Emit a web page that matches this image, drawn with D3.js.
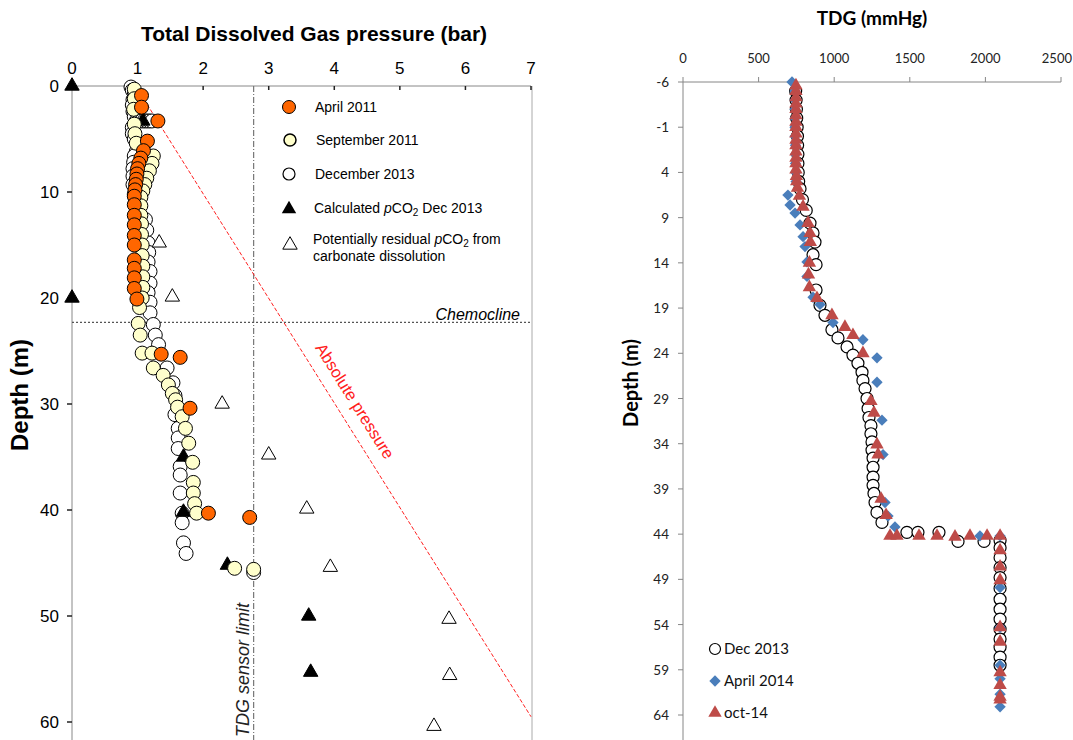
<!DOCTYPE html>
<html>
<head>
<meta charset="utf-8">
<script src="https://d3js.org/d3.v7.min.js"></script>
<style>
  body { margin: 0; background: #fff; }
  .lab { font-family: "Liberation Sans", Arial, sans-serif; }
  .cal { font-family: Lato, "Liberation Sans", sans-serif; }
</style>
</head>
<body>
<svg width="1073" height="740"></svg>
<script>
// ---- left panel data: [pressure (bar), depth (m)]
var apr2011 = [[1.06,0.9],[1.06,2.0],[1.31,3.3],[1.15,5.2],[1.09,6.1],[1.05,6.8],[1.02,7.3],[1.00,7.8],
  [0.99,8.3],[0.98,8.8],[0.97,9.3],[0.96,9.8],[0.95,10.4],[0.95,11.2],[0.95,12.2],[0.95,13.1],[0.95,14.1],
  [0.95,15.0],[0.95,16.4],[0.95,17.2],[0.95,18.1],[0.95,19.1],[0.99,20.1],[1.36,25.3],[1.65,25.6],
  [1.80,30.4],[2.08,40.3],[2.71,40.7]];
var sep2011 = [[0.95,0.3],[0.95,1.2],[0.94,2.2],[0.95,3.6],[0.96,4.5],[0.98,5.4],[1.24,6.6],[1.22,7.3],
  [1.18,8.0],[1.14,8.7],[1.11,9.3],[1.08,9.9],[1.05,10.5],[1.05,11.3],[1.05,12.2],[1.06,13.0],[1.06,14.0],
  [1.07,15.0],[1.07,16.0],[1.08,17.0],[1.08,18.0],[1.08,19.0],[1.07,20.0],[1.03,20.9],[1.01,22.4],
  [1.04,23.5],[1.07,25.2],[1.22,25.2],[1.24,26.6],[1.39,27.3],[1.47,28.2],[1.53,29.0],[1.58,29.6],
  [1.61,30.3],[1.68,31.2],[1.73,32.3],[1.78,33.7],[1.84,35.5],[1.85,37.4],[1.85,38.4],[1.87,39.4],
  [1.90,40.3],[2.48,45.5],[2.77,45.6]];
var dec2013 = [[0.90,0.1],[0.92,0.4],[0.95,0.8],[0.93,1.3],[0.92,1.8],[0.93,2.4],[0.95,2.9],[0.98,3.3],
  [1.02,3.3],[1.06,3.3],[1.10,3.3],[1.14,3.3],[1.18,3.3],[1.22,3.3],[0.92,3.9],[0.92,4.5],[0.95,5.0],
  [1.00,5.4],[1.03,5.8],[0.98,6.2],[0.95,6.6],[0.94,7.2],[0.93,7.8],[0.93,8.5],[0.93,9.3],[0.95,10.2],
  [0.97,11.0],[1.00,11.8],[1.12,12.6],[1.14,13.6],[1.16,14.8],[1.17,15.7],[1.16,16.6],[1.19,17.5],
  [1.19,18.6],[1.16,19.5],[1.19,20.4],[1.19,21.4],[1.24,22.5],[1.27,23.5],[1.32,24.4],[1.45,26.6],
  [1.54,28.0],[1.57,29.2],[1.57,31.0],[1.62,32.3],[1.62,33.2],[1.62,34.2],[1.65,35.9],[1.65,36.7],
  [1.65,38.4],[1.68,40.3],[1.68,41.2],[1.70,43.1],[1.74,44.1],[2.77,45.9]];
var calcPCO2 = [[0,0],[0,20],[1.08,3.3],[1.70,35.0],[1.70,40.2],[2.37,45.2],[3.61,50.0],[3.64,55.3]];
var residPCO2 = [[1.33,14.8],[1.53,19.9],[2.29,30.0],[3.00,34.8],[3.58,39.9],[3.94,45.4],[5.75,50.3],
  [5.76,55.6],[5.52,60.4]];
var absPressure = [[1.0,0.3],[7.0,59.5]];
var sensorLimit = 2.77;
var chemocline = 22.3;
var leftXTicks = [0,1,2,3,4,5,6,7];
var leftYTicks = [0,10,20,30,40,50,60];

// ---- right panel data: [TDG (mmHg), depth (m)]
var tdgDec2013 = [[745,-5],[748,-4],[750,-3],[752,-2],[755,-1],[757,0],[758,1],[760,2],[760,3],[762,4],
  [765,5],[774,5.8],[790,7],[815,8.2],[840,9.6],[860,10.7],[873,11.7],[860,13.1],[880,14.2],[880,17.0],
  [906,18.7],[939,19.8],[985,21.4],[1025,22.3],[1085,23.3],[1124,24.2],[1157,25.1],[1184,26.1],
  [1190,27.0],[1204,27.9],[1217,29.0],[1224,30.1],[1230,31.1],[1243,32.0],[1243,32.9],[1250,33.8],
  [1250,34.7],[1257,35.6],[1257,36.6],[1257,37.7],[1257,38.6],[1263,39.5],[1270,40.5],[1283,41.6],
  [1316,42.7],[1481,43.8],[1554,43.8],[1693,43.8],[1819,44.8],[1991,44.8],[2097,44.7],[2097,45.5],
  [2097,46.6],[2097,47.7],[2097,48.8],[2097,50.0],[2097,51.2],[2097,52.3],[2097,53.4],[2097,54.5],
  [2097,55.6],[2097,56.5],[2097,57.6],[2097,58.5]];
var tdgApr2014 = [[721,-6],[741,-5],[741,-4],[741,-3],[741,-2],[741,-1],[741,0],[744,1],[744,2],
  [744,3],[746,4],[748,5],[694,6.5],[708,7.6],[741,8.5],[774,9.8],[794,11.1],[807,12.2],[820,13.9],
  [820,15.5],[860,17.8],[906,18.6],[992,20.6],[1190,22.5],[1283,24.5],[1283,27.2],[1316,31.4],
  [1323,35.2],[1336,40.5],[1356,42.0],[1402,43.2],[1964,44.2],[2097,44.2],[2097,49.9],[2097,54.3],
  [2097,58.5],[2097,60.0],[2097,61.7],[2097,63.1]];
var tdgOct2014 = [[747,-5.6],[747,-5],[747,-4.3],[747,-3.6],[747,-3],[747,-2.3],[747,-1.6],[747,-1],
  [747,-0.3],[747,0.4],[747,1],[747,1.7],[747,2.4],[747,3],[747,3.7],[750,4.4],[752,5],[757,5.7],
  [770,6.6],[794,7.8],[827,9.6],[840,10.7],[842,11.7],[836,14.0],[830,15.3],[836,16.7],[886,17.9],
  [985,19.8],[1071,21.1],[1124,22.0],[1190,24.0],[1243,29.3],[1263,30.6],[1283,34.1],[1290,35.2],
  [1310,40.1],[1343,41.9],[1369,44.2],[1415,44.2],[1561,44.2],[1680,44.2],[1799,44.3],[1898,44.2],
  [2011,44.2],[2097,44.2],[2097,45.8],[2097,47.6],[2097,49.1],[2097,54.3],[2097,55.9],[2097,59.3],
  [2097,60.7],[2097,62.0],[2097,62.3]];
var rightXTicks = [0,500,1000,1500,2000,2500];
var rightYTicks = [-6,-1,4,9,14,19,24,29,34,39,44,49,54,59,64];

var svg = d3.select("svg");

// ===================== LEFT PANEL =====================
var lx = d3.scaleLinear().domain([0,7]).range([72,531]);
var ly = d3.scaleLinear().domain([0,60]).range([86,722]);
var L = svg.append("g").attr("class","lab");

// frame
L.append("line").attr("x1",lx(0)).attr("x2",lx(7)).attr("y1",ly(0)).attr("y2",ly(0)).attr("stroke","#888");
L.append("line").attr("x1",lx(0)).attr("x2",lx(0)).attr("y1",ly(0)).attr("y2",740).attr("stroke","#888");
L.append("line").attr("x1",lx(7)+1).attr("x2",lx(7)+1).attr("y1",ly(0)).attr("y2",740).attr("stroke","#aaa");

L.selectAll(".xt").data(leftXTicks).enter().append("line")
  .attr("x1",d=>lx(d)).attr("x2",d=>lx(d)).attr("y1",ly(0)).attr("y2",ly(0)+4).attr("stroke","#222").attr("stroke-width",1.5);
L.selectAll(".xl").data(leftXTicks).enter().append("text")
  .attr("x",d=>lx(d)).attr("y",74).attr("text-anchor","middle").attr("font-size",17).text(d=>d);
L.selectAll(".yt").data(leftYTicks).enter().append("line")
  .attr("x1",lx(0)-5).attr("x2",lx(0)).attr("y1",d=>ly(d)).attr("y2",d=>ly(d)).attr("stroke","#222").attr("stroke-width",1.5);
L.selectAll(".yl").data(leftYTicks).enter().append("text")
  .attr("x",59).attr("y",d=>ly(d)+6).attr("text-anchor","end").attr("font-size",17).text(d=>d);

L.append("text").attr("x",314).attr("y",41).attr("text-anchor","middle").attr("font-size",21)
  .attr("font-weight","bold").text("Total Dissolved Gas pressure (bar)");
L.append("text").attr("transform","translate(28,395) rotate(-90)").attr("text-anchor","middle")
  .attr("font-size",24).attr("font-weight","bold").text("Depth (m)");

// reference lines
L.append("line").attr("x1",lx(sensorLimit)).attr("x2",lx(sensorLimit)).attr("y1",ly(0)).attr("y2",740)
  .attr("stroke","#777").attr("stroke-width",1.2).attr("stroke-dasharray","6,2,1,2");
L.append("line").attr("x1",lx(0)).attr("x2",lx(7)).attr("y1",ly(chemocline)).attr("y2",ly(chemocline))
  .attr("stroke","#555").attr("stroke-width",1.2).attr("stroke-dasharray","2,2");
L.append("path").datum(absPressure).attr("fill","none").attr("stroke","#ff2020").attr("stroke-width",1)
  .attr("stroke-dasharray","4,2").attr("d",d3.line().x(d=>lx(d[0])).y(d=>ly(d[1])));

L.append("text").attr("x",520).attr("y",320).attr("text-anchor","end").attr("font-size",16)
  .attr("font-style","italic").text("Chemocline");
L.append("text").attr("transform","translate(249,737) rotate(-90)").attr("font-size",18)
  .attr("font-style","italic").attr("fill","#222").text("TDG sensor limit");
var ang = Math.atan2(ly(59.5)-ly(0.3), lx(7)-lx(1)) * 180 / Math.PI;
L.append("text").attr("transform","translate(350,404) rotate("+ang+")").attr("text-anchor","middle")
  .attr("font-size",16.5).attr("fill","#ff2020").text("Absolute pressure");

var tri = d3.symbol().type(d3.symbolTriangle).size(90);

function circles(g, data, fill) {
  g.selectAll(null).data(data).enter().append("circle")
    .attr("cx",d=>lx(d[0])).attr("cy",d=>ly(d[1])).attr("r",7)
    .attr("fill",fill).attr("stroke","#000").attr("stroke-width",1);
}
function triangles(g, data, fill) {
  g.selectAll(null).data(data).enter().append("path")
    .attr("d",tri).attr("transform",d=>"translate("+lx(d[0])+","+ly(d[1])+")")
    .attr("fill",fill).attr("stroke","#000").attr("stroke-width",1);
}
var pts = L.append("g");
circles(pts, dec2013, "#fff");
triangles(pts, residPCO2, "#fff");
triangles(pts, calcPCO2, "#000");
circles(pts, sep2011, "#ffffcc");
circles(pts, apr2011, "#ff6600");

// legend
var lg = L.append("g").attr("font-size",14);
var legRows = [107,140,174,208,242];
lg.append("circle").attr("cx",289).attr("cy",legRows[0]).attr("r",6.5).attr("fill","#ff6600").attr("stroke","#000");
lg.append("circle").attr("cx",290).attr("cy",legRows[1]).attr("r",6).attr("fill","#ffffcc").attr("stroke","#000").attr("stroke-width",1.5);
lg.append("circle").attr("cx",289).attr("cy",legRows[2]).attr("r",6).attr("fill","#fff").attr("stroke","#000").attr("stroke-width",1.2);
lg.append("path").attr("d",tri).attr("transform","translate(289,"+(legRows[3]+1)+")").attr("fill","#000");
lg.append("path").attr("d",tri).attr("transform","translate(290,"+(legRows[4]+3)+")").attr("fill","#fff").attr("stroke","#000");
lg.append("text").attr("x",315).attr("y",legRows[0]+5).text("April 2011");
lg.append("text").attr("x",316).attr("y",legRows[1]+5).text("September 2011");
lg.append("text").attr("x",315).attr("y",legRows[2]+5).text("December 2013");
var t4 = lg.append("text").attr("x",314).attr("y",legRows[3]+5);
t4.append("tspan").text("Calculated ");
t4.append("tspan").attr("font-style","italic").text("p");
t4.append("tspan").text("CO");
t4.append("tspan").attr("font-size",10).attr("dy",3).text("2");
t4.append("tspan").attr("dy",-3).text(" Dec 2013");
var t5 = lg.append("text").attr("x",313).attr("y",legRows[4]+2);
t5.append("tspan").text("Potentially residual ");
t5.append("tspan").attr("font-style","italic").text("p");
t5.append("tspan").text("CO");
t5.append("tspan").attr("font-size",10).attr("dy",3).text("2");
t5.append("tspan").attr("dy",-3).text(" from");
lg.append("text").attr("x",313).attr("y",legRows[4]+19).text("carbonate dissolution");

// ===================== RIGHT PANEL =====================
var rx = d3.scaleLinear().domain([0,2500]).range([683,1061]);
var ry = d3.scaleLinear().domain([-6,64]).range([82,715]);
var R = svg.append("g").attr("class","cal");

R.append("line").attr("x1",rx(0)).attr("x2",rx(2500)).attr("y1",ry(-6)).attr("y2",ry(-6)).attr("stroke","#868686");
R.append("line").attr("x1",rx(0)).attr("x2",rx(0)).attr("y1",ry(-6)).attr("y2",740).attr("stroke","#868686");
R.selectAll(".xt").data(rightXTicks).enter().append("line")
  .attr("x1",d=>rx(d)).attr("x2",d=>rx(d)).attr("y1",ry(-6)-5).attr("y2",ry(-6)).attr("stroke","#868686");
R.selectAll(".xl").data(rightXTicks).enter().append("text")
  .attr("x",d=>d === 2500 ? 1072 : rx(d)).attr("y",63)
  .attr("text-anchor",d=>d === 2500 ? "end" : "middle").attr("font-size",13).attr("fill","#222").text(d=>d);
R.selectAll(".yt").data(rightYTicks).enter().append("line")
  .attr("x1",rx(0)-5).attr("x2",rx(0)).attr("y1",d=>ry(d)).attr("y2",d=>ry(d)).attr("stroke","#868686");
R.selectAll(".yl").data(rightYTicks).enter().append("text")
  .attr("x",rx(0)-14).attr("y",d=>ry(d)+5).attr("text-anchor","end").attr("font-size",13.5).attr("fill","#222").text(d=>d);

R.append("text").attr("x",872).attr("y",25).attr("text-anchor","middle").attr("font-size",19)
  .attr("font-weight","bold").text("TDG (mmHg)");
R.append("text").attr("transform","translate(638,383) rotate(-90)").attr("text-anchor","middle")
  .attr("font-size",20).attr("font-weight","bold").text("Depth (m)");

var dia = d3.symbol().type(d3.symbolSquare).size(64);
var rtri = d3.symbol().type(d3.symbolTriangle).size(78);
var rp = R.append("g");
rp.selectAll(null).data(tdgDec2013).enter().append("circle")
  .attr("cx",d=>rx(d[0])).attr("cy",d=>ry(d[1])).attr("r",6)
  .attr("fill","#fff").attr("stroke","#000").attr("stroke-width",1.2);
rp.selectAll(null).data(tdgApr2014).enter().append("path").attr("d",dia)
  .attr("transform",d=>"translate("+rx(d[0])+","+ry(d[1])+") rotate(45)").attr("fill","#4a7ebb");
rp.selectAll(null).data(tdgOct2014).enter().append("path").attr("d",rtri)
  .attr("transform",d=>"translate("+rx(d[0])+","+ry(d[1])+")").attr("fill","#be4b48");

// legend
var rl = R.append("g").attr("font-size",15).attr("fill","#111");
rl.append("circle").attr("cx",715).attr("cy",649).attr("r",5.5).attr("fill","#fff").attr("stroke","#000").attr("stroke-width",1.2);
rl.append("path").attr("d",dia).attr("transform","translate(715,681) rotate(45)").attr("fill","#4a7ebb");
rl.append("path").attr("d",rtri).attr("transform","translate(715,713)").attr("fill","#be4b48");
rl.append("text").attr("x",724).attr("y",654).text("Dec 2013");
rl.append("text").attr("x",724).attr("y",686).text("April 2014");
rl.append("text").attr("x",724).attr("y",718).text("oct-14");
</script>
</body>
</html>
